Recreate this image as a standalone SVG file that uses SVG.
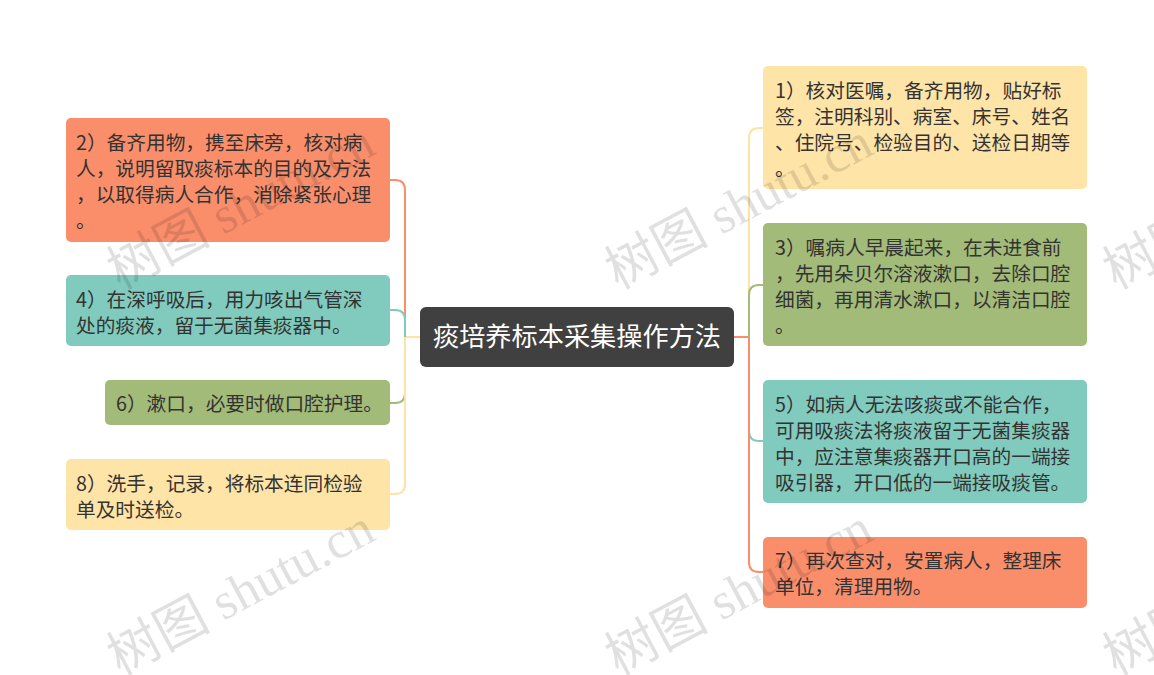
<svg xmlns="http://www.w3.org/2000/svg" width="1154" height="675" viewBox="0 0 1154 675">
<style>
.t{font-family:"Noto Sans CJK SC","Noto Sans",sans-serif;font-size:19.7px;fill:#333333}
.c{font-family:"Noto Sans CJK SC","Noto Sans",sans-serif;font-size:26.2px;fill:#ffffff}
.wm{font-family:"Liberation Serif","Noto Sans CJK SC",serif;font-size:52px;fill:#000000;fill-opacity:0.12}
.ln{fill:none;stroke-width:2}
.sal{fill:#fa8e6b}
.tea{fill:#80cbbd}
.grn{fill:#a3bb79}
.yel{fill:#ffe4a7}
</style>
<rect width="1154" height="675" fill="#ffffff"/>
<g id="connectors">
<path class="ln" stroke="#fde3a4" d="M420 337 H405"/>
<path class="ln" stroke="#fa8e6b" d="M405 337 V190 Q405 180 395 180 H390"/>
<path class="ln" stroke="#80cbbd" d="M405 337 V320 Q405 310 395 310 H390"/>
<path class="ln" stroke="#a3bb79" d="M405 337 V393 Q405 403 395 403 H390"/>
<path class="ln" stroke="#fde3a4" d="M405 337 V484 Q405 494 395 494 H390"/>
<path class="ln" stroke="#fa8e6b" d="M734 337 H749"/>
<path class="ln" stroke="#fde3a4" d="M749 337 V138 Q749 128 759 128 H763"/>
<path class="ln" stroke="#a3bb79" d="M749 337 V295 Q749 285 759 285 H763"/>
<path class="ln" stroke="#80cbbd" d="M749 337 V431 Q749 441 759 441 H763"/>
<path class="ln" stroke="#fa8e6b" d="M749 337 V562 Q749 572 759 572 H763"/>
</g>
<g id="center">
<rect x="420" y="307" width="314" height="60" rx="6" fill="#404040"/>
<text class="c" x="577" y="346" text-anchor="middle">痰培养标本采集操作方法</text>
</g>
<g id="node2">
<rect class="sal" x="66" y="118" width="324" height="124" rx="5"/>
<text class="t" x="76" y="150">2）备齐用物，携至床旁，核对病</text>
<text class="t" x="76" y="176">人，说明留取痰标本的目的及方法</text>
<text class="t" x="76" y="202">，以取得病人合作，消除紧张心理</text>
<text class="t" x="76" y="228">。</text>
</g>
<g id="node4">
<rect class="tea" x="66" y="275" width="324" height="71" rx="5"/>
<text class="t" x="76" y="307">4）在深呼吸后，用力咳出气管深</text>
<text class="t" x="76" y="333">处的痰液，留于无菌集痰器中。</text>
</g>
<g id="node6">
<rect class="grn" x="105" y="380" width="285" height="45" rx="5"/>
<text class="t" x="116" y="411">6）漱口，必要时做口腔护理。</text>
</g>
<g id="node8">
<rect class="yel" x="66" y="459" width="324" height="71" rx="5"/>
<text class="t" x="76" y="491">8）洗手，记录，将标本连同检验</text>
<text class="t" x="76" y="517">单及时送检。</text>
</g>
<g id="node1">
<rect class="yel" x="763" y="66" width="324" height="123" rx="5"/>
<text class="t" x="775" y="98">1）核对医嘱，备齐用物，贴好标</text>
<text class="t" x="775" y="124">签，注明科别、病室、床号、姓名</text>
<text class="t" x="775" y="150">、住院号、检验目的、送检日期等</text>
<text class="t" x="775" y="176">。</text>
</g>
<g id="node3">
<rect class="grn" x="763" y="223" width="324" height="123" rx="5"/>
<text class="t" x="775" y="255">3）嘱病人早晨起来，在未进食前</text>
<text class="t" x="775" y="281">，先用朵贝尔溶液漱口，去除口腔</text>
<text class="t" x="775" y="307">细菌，再用清水漱口，以清洁口腔</text>
<text class="t" x="775" y="333">。</text>
</g>
<g id="node5">
<rect class="tea" x="763" y="380" width="324" height="123" rx="5"/>
<text class="t" x="775" y="412">5）如病人无法咳痰或不能合作，</text>
<text class="t" x="775" y="438">可用吸痰法将痰液留于无菌集痰器</text>
<text class="t" x="775" y="464">中，应注意集痰器开口高的一端接</text>
<text class="t" x="775" y="490">吸引器，开口低的一端接吸痰管。</text>
</g>
<g id="node7">
<rect class="sal" x="763" y="537" width="324" height="71" rx="5"/>
<text class="t" x="775" y="568">7）再次查对，安置病人，整理床</text>
<text class="t" x="775" y="594">单位，清理用物。</text>
</g>
<g id="watermarks">
<text class="wm" transform="translate(120 290) rotate(-28)">树图 shutu.cn</text>
<text class="wm" transform="translate(618 290) rotate(-28)">树图 shutu.cn</text>
<text class="wm" transform="translate(1116 290) rotate(-28)">树图 shutu.cn</text>
<text class="wm" transform="translate(120 676) rotate(-28)">树图 shutu.cn</text>
<text class="wm" transform="translate(618 676) rotate(-28)">树图 shutu.cn</text>
<text class="wm" transform="translate(1116 676) rotate(-28)">树图 shutu.cn</text>
</g>
</svg>
